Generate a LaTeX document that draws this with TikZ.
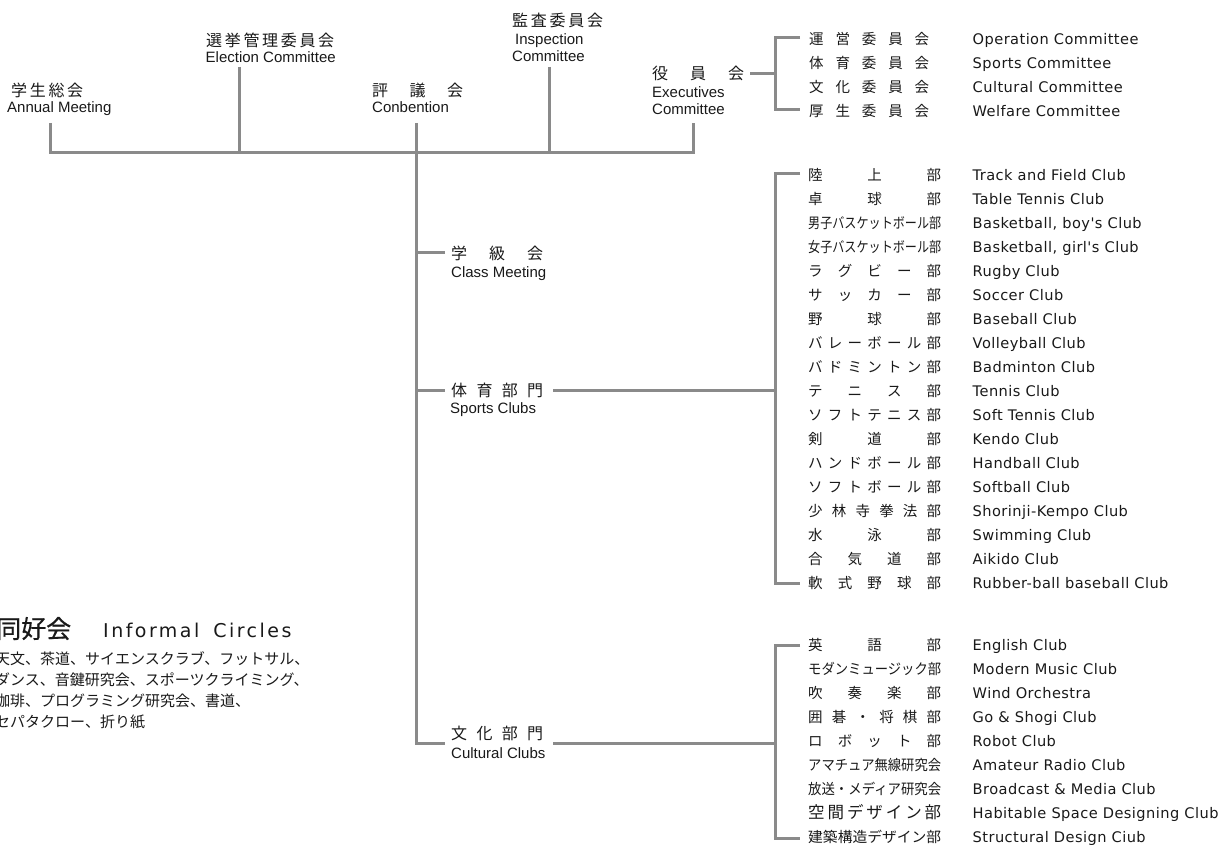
\documentclass[tikz,border=0pt]{standalone}
\usepackage{fontspec}
\usepackage{graphicx}
\newfontfamily\jp{Noto Sans CJK JP}
\newfontfamily\jpb[FakeBold=0.5]{Noto Sans CJK JP}
\newfontfamily\en{Liberation Sans}
\newfontfamily\enr[LetterSpace=3]{DejaVu Sans}
\newfontfamily\enh[LetterSpace=13]{DejaVu Sans}
\definecolor{linegray}{RGB}{138,138,138}
\definecolor{ink}{RGB}{25,25,25}
\def\sprA#1{\ifx\relax#1\else#1\expandafter\sprB\fi}
\def\sprB#1{\ifx\relax#1\else\hfill#1\expandafter\sprB\fi}
\newcommand\jsp[2]{\makebox[#1][s]{\sprA#2\relax}}
\newcommand\fitx[2]{\resizebox{#1}{\height}{#2}}
\tikzset{
  conn/.style={draw=linegray, line width=3pt, line join=miter},
  jt/.style={anchor=base west, inner sep=0pt, text=ink, font=\jp\fontsize{16}{16}\selectfont},
  et/.style={anchor=base west, inner sep=0pt, text=ink, font=\en\fontsize{15}{15}\selectfont},
  jl/.style={anchor=base west, inner sep=0pt, text=ink, font=\jp\fontsize{14.5}{15}\selectfont},
  el/.style={anchor=base west, inner sep=0pt, text=ink, font=\enr\fontsize{14.6}{15}\selectfont},
  jb/.style={anchor=base west, inner sep=0pt, text=ink, font=\jp\fontsize{15}{15}\selectfont},
}
\begin{document}
\begin{tikzpicture}[x=1pt,y=-1pt]
\useasboundingbox (0,0) rectangle (1221,845);

% ---------- top labels ----------
\node[jt] (annj) at (11,96.5) {\jsp{72pt}{学生総会}};
\node[et] (anne) at (7,112.5) {Annual Meeting};
\node[jt] (elej) at (206,46.5) {\jsp{128pt}{選挙管理委員会}};
\node[et] (elee) at (205.5,63) {Election Committee};
\node[jt] (conj) at (372,96.5) {\jsp{91pt}{評議会}};
\node[et] (cone) at (372,112.5) {Conbention};
\node[jt] (insj) at (512,26.5) {\jsp{91pt}{監査委員会}};
\node[et] (inse1) at (515,44.5) {Inspection};
\node[et] (inse2) at (512,62) {Committee};
\node[jt] (exej) at (652,79.5) {\jsp{92pt}{役員会}};
\node[et] (exee1) at (652,97.5) {Executives};
\node[et] (exee2) at (652,115) {Committee};

% ---------- middle labels ----------
\node[jt] (clsj) at (451,259.5) {\jsp{92pt}{学級会}};
\node[et] (clse) at (451,277) {Class Meeting};
\node[jt] (spj) at (451,396.5) {\jsp{92pt}{体育部門}};
\node[et] (spe) at (450,413) {Sports Clubs};
\node[jt] (cuj) at (451,739) {\jsp{92pt}{文化部門}};
\node[et] (cue) at (451,758) {Cultural Clubs};

% ---------- committees ----------
\foreach \jj/\ee [count=\i] in {%
  {\jsp{120pt}{運営委員会}}/{Operation Committee},
  {\jsp{120pt}{体育委員会}}/{Sports Committee},
  {\jsp{120pt}{文化委員会}}/{Cultural Committee},
  {\jsp{120pt}{厚生委員会}}/{Welfare Committee}}{
  \node[jl] (cj\i) at (809,{44.5+24*(\i-1)}) {\jj};
  \node[el] (ce\i) at (972.5,{44.5+24*(\i-1)}) {\ee};
}

% ---------- sports clubs ----------
\foreach \jj/\ee [count=\i] in {%
  {\jsp{133pt}{陸上部}}/{Track and Field Club},
  {\jsp{133pt}{卓球部}}/{Table Tennis Club},
  {\fitx{133pt}{男子バスケットボール部}}/{Basketball, boy's Club},
  {\fitx{133pt}{女子バスケットボール部}}/{Basketball, girl's Club},
  {\jsp{133pt}{ラグビー部}}/{Rugby Club},
  {\jsp{133pt}{サッカー部}}/{Soccer Club},
  {\jsp{133pt}{野球部}}/{Baseball Club},
  {\jsp{133pt}{バレーボール部}}/{Volleyball Club},
  {\jsp{133pt}{バドミントン部}}/{Badminton Club},
  {\jsp{133pt}{テニス部}}/{Tennis Club},
  {\jsp{133pt}{ソフトテニス部}}/{Soft Tennis Club},
  {\jsp{133pt}{剣道部}}/{Kendo Club},
  {\jsp{133pt}{ハンドボール部}}/{Handball Club},
  {\jsp{133pt}{ソフトボール部}}/{Softball Club},
  {\jsp{133pt}{少林寺拳法部}}/{Shorinji-Kempo Club},
  {\jsp{133pt}{水泳部}}/{Swimming Club},
  {\jsp{133pt}{合気道部}}/{Aikido Club},
  {\jsp{133pt}{軟式野球部}}/{Rubber-ball baseball Club}}{
  \node[jl] (sj\i) at (808,{180.5+24*(\i-1)}) {\jj};
  \node[el] (se\i) at (972.5,{180.5+24*(\i-1)}) {\ee};
}

% ---------- cultural clubs ----------
\foreach \jj/\ee [count=\i] in {%
  {\jsp{133pt}{英語部}}/{English Club},
  {\fitx{133pt}{モダンミュージック部}}/{Modern Music Club},
  {\jsp{133pt}{吹奏楽部}}/{Wind Orchestra},
  {\jsp{133pt}{囲碁・将棋部}}/{Go \& Shogi Club},
  {\jsp{133pt}{ロボット部}}/{Robot Club},
  {\fitx{133pt}{アマチュア無線研究会}}/{Amateur Radio Club},
  {\fitx{133pt}{放送・メディア研究会}}/{Broadcast \& Media Club},
  {\fontsize{16.5}{16.5}\selectfont\jsp{133pt}{空間デザイン部}}/{Habitable Space Designing Club},
  {\fitx{133pt}{建築構造デザイン部}}/{Structural Design Ciub}}{
  \node[jl] (kj\i) at (808,{650.5+24*(\i-1)}) {\jj};
  \node[el] (ke\i) at (972.5,{650.5+24*(\i-1)}) {\ee};
}

% ---------- informal circles ----------
\node[anchor=base west, inner sep=0pt, text=ink, font=\jpb\fontsize{25}{25}\selectfont] (ich) at (-4,638) {同好会};
\node[anchor=base west, inner sep=0pt, text=ink, font=\enh\fontsize{19}{19}\selectfont] (ice) at (103,637.5) {Informal\hspace{14pt}Circles};
\node[jb] (icl1) at (-5,664.5) {天文、茶道、サイエンスクラブ、フットサル、};
\node[jb] (icl2) at (-5,685.5) {ダンス、音鍵研究会、スポーツクライミング、};
\node[jb] (icl3) at (-5,706.5) {珈琲、プログラミング研究会、書道、};
\node[jb] (icl4) at (-5,727.5) {セパタクロー、折り紙};

% ---------- connector coordinates ----------
\coordinate (annT) at (50,123);   \coordinate (annB) at (50,153);
\coordinate (elecT) at (239,67);  \coordinate (elecB) at (239,153);
\coordinate (convT) at (416,123);
\coordinate (inspT) at (549,67);  \coordinate (inspB) at (549,153);
\coordinate (exeT) at (693,123);  \coordinate (exeB) at (693,153);
\coordinate (trClass) at (416,253); \coordinate (classL) at (445,253);
\coordinate (trSport) at (416,390); \coordinate (sportL) at (445,390);
\coordinate (trunkB) at (416,743);  \coordinate (cultL) at (445,743);
\coordinate (sportR) at (553,390);  \coordinate (sbM) at (775,390);
\coordinate (cultR) at (553,743);   \coordinate (cbM) at (775,743);
\coordinate (exeR) at (750,74);     \coordinate (ebM) at (775,74);
\coordinate (ebT) at (775,38);  \coordinate (ebTt) at (800,38);
\coordinate (ebB) at (775,110); \coordinate (ebBt) at (800,110);
\coordinate (sbT) at (775,174); \coordinate (sbTt) at (800,174);
\coordinate (sbB) at (775,583); \coordinate (sbBt) at (800,583);
\coordinate (cbT) at (775,645); \coordinate (cbTt) at (800,645);
\coordinate (cbB) at (775,838); \coordinate (cbBt) at (800,838);

% ---------- connectors ----------
\draw[conn] (annT) -- (annB) -- (exeB) -- (exeT);
\draw[conn] (elecT) -- (elecB);
\draw[conn] (inspT) -- (inspB);
\draw[conn] (convT) -- (trunkB) -- (cultL);
\draw[conn] (trClass) -- (classL);
\draw[conn] (trSport) -- (sportL);
\draw[conn] (sportR) -- (sbM);
\draw[conn] (cultR) -- (cbM);
\draw[conn] (exeR) -- (ebM);
\draw[conn] (ebTt) -- (ebT) -- (ebB) -- (ebBt);
\draw[conn] (sbTt) -- (sbT) -- (sbB) -- (sbBt);
\draw[conn] (cbTt) -- (cbT) -- (cbB) -- (cbBt);
\end{tikzpicture}
\end{document}
